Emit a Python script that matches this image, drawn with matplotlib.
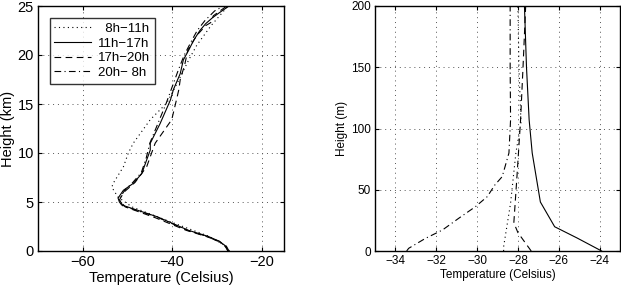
import matplotlib
matplotlib.use("Agg")
import matplotlib.pyplot as plt

plt.rcParams['font.family'] = ['Liberation Sans', 'DejaVu Sans']

# ---- Left panel data (height km, temperature C) ----
h_811 = [0, 0.5, 1.5, 3, 4.5, 5.5, 6.5, 6.9, 8.6, 10, 11, 13.4, 15.1, 17.1, 19.5, 21, 23, 25]
t_811 = [-27.2, -28, -31.8, -40.5, -49, -52.1, -53.5, -53.2, -50.9, -49.8, -48.7, -44.9, -41.2,
         -38.9, -36.3, -34.5, -31.3, -27.5]

h_1117 = [0, 0.3, 0.6, 1.0, 1.5, 2.1, 3.5, 4.7, 5.0, 5.4, 6.2, 6.9, 7.9, 9.3, 10.3, 11.0, 13.0,
          15.4, 16.5, 18.1, 19.5, 20.5, 21.5, 22.5, 23.2, 23.8, 24.3, 25]
t_1117 = [-27.6, -27.8, -28.3, -29.5, -32, -36.3, -43.4, -51.3, -51.8, -52.1, -50.9, -48.7,
          -46.8, -45.7, -44.9, -44.9, -42.7, -40.4, -39.7, -38.2, -37.5, -36.3, -35.2, -33.8,
          -32.5, -31.0, -29.5, -27.3]

h_1720 = [0, 0.5, 1, 1.5, 2.1, 3.4, 4.5, 5.2, 6, 7, 8.6, 10, 11, 13.4, 15.7, 16.5, 17.5, 19,
          20.5, 22, 23, 23.3, 24, 25]
t_1720 = [-27.3, -27.9, -29.5, -32.5, -36.8, -43.8, -50.5, -51.8, -50.8, -48.3, -45.7, -44.6,
          -43.8, -40.1, -38.9, -38.5, -38.2, -37.2, -36.5, -34.5, -32.5, -31.4, -30.8, -27.8]

h_2008 = [0, 0.5, 1, 1.5, 2.1, 3.5, 4.6, 5.3, 6.2, 7, 8, 9.5, 11, 13, 15, 17, 18.5, 20, 21.5,
          22.5, 23.5, 24.5, 25]
t_2008 = [-27.5, -28.2, -29.8, -32.3, -36.5, -43.6, -51.0, -51.9, -50.6, -48.8, -46.9, -45.8,
          -45.0, -43.2, -41.4, -39.8, -38.6, -37.3, -35.6, -34.4, -32.7, -30.5, -28.5]

# ---- Right panel data (height m, temperature C) ----
hr_811 = [0, 3.5, 39, 80, 105, 150, 200]
tr_811 = [-28.7, -28.7, -28.36, -28.1, -27.85, -27.95, -28.0]

hr_1117 = [0, 10.6, 19.8, 40, 80, 107, 150, 200]
tr_1117 = [-23.9, -25.1, -26.2, -26.9, -27.3, -27.45, -27.58, -27.68]

hr_1720 = [0, 15, 23, 60, 107, 150, 200]
tr_1720 = [-27.35, -28.0, -28.2, -28.05, -27.87, -27.75, -27.62]

hr_2008 = [0, 2.2, 10.3, 17.1, 26.7, 36.2, 44.4, 53.9, 60.7, 80, 107, 150, 200]
tr_2008 = [-33.45, -33.35, -32.53, -31.7, -30.9, -30.08, -29.5, -29.13, -28.77, -28.44,
           -28.36, -28.38, -28.38]

labels = ['  8h\u221211h', '11h\u221217h', '17h\u221220h', '20h\u2212 8h']
styles = [(0, (1, 3)), '-', (0, (6, 4)), (0, (6, 3, 1, 3))]

fig = plt.figure(figsize=(6.21, 2.91), dpi=100)
ax1 = fig.add_axes([38/621, 40/291, 246/621, 245/291])
ax2 = fig.add_axes([375/621, 40/291, 245/621, 245/291])

for (h, t), ls, lab in zip([(h_811, t_811), (h_1117, t_1117), (h_1720, t_1720), (h_2008, t_2008)],
                           styles, labels):
    ax1.plot(t, h, color='black', linestyle=ls, linewidth=0.8, label=lab)

for (h, t), ls in zip([(hr_811, tr_811), (hr_1117, tr_1117), (hr_1720, tr_1720), (hr_2008, tr_2008)],
                      styles):
    ax2.plot(t, h, color='black', linestyle=ls, linewidth=0.8)

ax1.set_xlim(-70, -15)
ax1.set_ylim(0, 25)
ax1.set_xticks([-60, -40, -20])
ax1.set_yticks([0, 5, 10, 15, 20, 25])
ax1.set_xlabel('Temperature (Celsius)', fontsize=10.5, labelpad=1)
ax1.set_ylabel('Height (km)', fontsize=10.5, labelpad=2)
ax1.tick_params(labelsize=10.5, direction='in', length=3, pad=3)

ax2.set_xlim(-35, -23)
ax2.set_ylim(0, 200)
ax2.set_xticks([-34, -32, -30, -28, -26, -24])
ax2.set_yticks([0, 50, 100, 150, 200])
ax2.set_xlabel('Temperature (Celsius)', fontsize=8.5, labelpad=1)
ax2.set_ylabel('Height (m)', fontsize=8.5, labelpad=2)
ax2.tick_params(labelsize=8.5, direction='in', length=3, pad=3)

for ax in (ax1, ax2):
    ax.grid(True, color='#555555', linestyle=(0, (1, 4)), linewidth=0.7)
    for s in ax.spines.values():
        s.set_linewidth(1.0)
    ax.tick_params(top=True, right=True)

leg = ax1.legend(loc='upper left', bbox_to_anchor=(0.048, 0.95), fontsize=9.5, frameon=True,
                 fancybox=False, edgecolor='black', handlelength=2.8, borderpad=0.35,
                 labelspacing=0.18, handletextpad=0.5, borderaxespad=0)
leg.get_frame().set_linewidth(1.0)
for txt in leg.get_texts():
    txt.set_ha('right')
leg._legend_box.align = 'right'

fig.savefig('out.png', dpi=100)
